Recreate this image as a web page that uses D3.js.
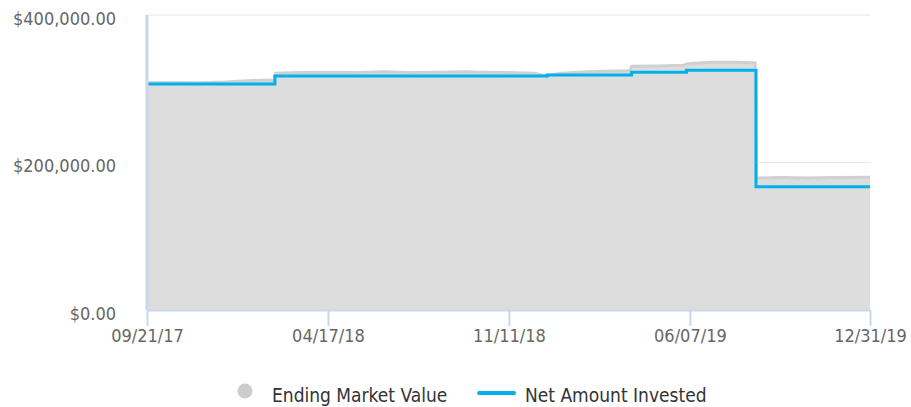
<!DOCTYPE html>
<html>
<head>
<meta charset="utf-8">
<script src="https://cdn.jsdelivr.net/npm/d3@7"></script>
<style>
  body { margin: 0; background: #fff; }
  text { font-family: "DejaVu Sans Condensed", "DejaVu Sans", sans-serif; font-stretch: condensed; }
</style>
</head>
<body>
<div class="canvas"></div>
<script>
const margin = { top: 15, right: 41, bottom: 97, left: 147 };
const width = 911 - margin.left - margin.right;
const height = 407 - margin.top - margin.bottom;

const parseDate = d3.timeParse("%m/%d/%y");
const fmtDate = d3.timeFormat("%m/%d/%y");

// Ending market value (area)
const marketDates = [
  "09/21/17", "10/20/17", "11/20/17", "12/20/17", "01/15/18", "02/10/18", "02/14/18",
  "02/16/18", "03/15/18", "04/17/18", "05/20/18", "06/20/18", "07/20/18", "08/20/18",
  "09/20/18", "10/15/18", "11/11/18", "12/10/18", "12/24/18", "01/10/19", "02/10/19",
  "03/10/19", "03/30/19", "04/01/19", "05/01/19", "05/31/19", "06/04/19", "07/01/19",
  "08/01/19", "08/21/19", "08/22/19", "09/20/19", "10/20/19", "11/20/19", "12/31/19"
];
const marketValues = [
  308000, 308500, 308000, 309000, 311000, 312000, 310000,
  321000, 322000, 322500, 322000, 323000, 322000, 322500,
  323000, 322500, 322000, 321000, 317500, 321000, 323000,
  324000, 324000, 330500, 331000, 332000, 334000, 336000,
  336000, 335000, 179000, 179500, 179000, 179500, 180000
];

// Net amount invested (step line)
const investedDates = ["09/21/17", "02/15/18", "12/25/18", "04/01/19", "06/03/19", "08/22/19", "12/31/19"];
const investedValues = [306500, 317200, 318700, 322500, 325000, 167000, 167000];

const yTicks = [0, 200000, 400000];
const xTickLabels = ["09/21/17", "04/17/18", "11/11/18", "06/07/19", "12/31/19"];

const market = marketDates.map((d, i) => ({ date: parseDate(d), value: marketValues[i] }));
const invested = investedDates.map((d, i) => ({ date: parseDate(d), value: investedValues[i] }));

const root = d3
  .select(".canvas")
  .append("svg")
  .attr("width", 911)
  .attr("height", 407);

const svg = root
  .append("g")
  .attr("transform", `translate(${margin.left},${margin.top})`);

const x = d3.scaleTime()
  .domain([parseDate(xTickLabels[0]), parseDate(xTickLabels[xTickLabels.length - 1])])
  .range([0, width]);
const y = d3.scaleLinear().domain([0, 400000]).range([height, 0]);

// gridlines
svg.selectAll(".grid")
  .data(yTicks.filter((d) => d > 0))
  .join("line")
  .attr("x1", 0)
  .attr("x2", width)
  .attr("y1", (d) => y(d))
  .attr("y2", (d) => y(d))
  .attr("stroke", "#e6e6e6")
  .attr("stroke-width", 1);

// area
const area = d3.area()
  .x((d) => x(d.date))
  .y0(height)
  .y1((d) => y(d.value));
const areaTop = d3.line()
  .x((d) => x(d.date))
  .y((d) => y(d.value));

svg.append("path")
  .datum(market)
  .attr("d", area)
  .attr("fill", "#dddddd");
svg.append("path")
  .datum(market)
  .attr("d", areaTop)
  .attr("fill", "none")
  .attr("stroke", "#d0d0d0")
  .attr("stroke-width", 3);

// step line
const line = d3.line()
  .curve(d3.curveStepAfter)
  .x((d) => x(d.date))
  .y((d) => y(d.value));
svg.append("path")
  .datum(invested)
  .attr("d", line)
  .attr("fill", "none")
  .attr("stroke", "#00b0eb")
  .attr("stroke-width", 3);

// axes
svg.append("line")
  .attr("x1", 0).attr("x2", 0)
  .attr("y1", 0).attr("y2", height)
  .attr("stroke", "#ccd6eb")
  .attr("stroke-width", 3);

const xAxis = svg.append("g").attr("transform", `translate(0,${height})`);
xAxis.call(
  d3.axisBottom(x)
    .tickValues(xTickLabels.map(parseDate))
    .tickFormat(fmtDate)
    .tickSizeInner(16)
    .tickSizeOuter(0)
    .tickPadding(3)
);
xAxis.select(".domain").attr("stroke", "#ccd6eb").attr("stroke-width", 2);
xAxis.selectAll(".tick line").attr("stroke", "#ccd6eb").attr("stroke-width", 2);
xAxis.selectAll(".tick text")
  .attr("fill", "#666666")
  .style("font-size", "18px")
  .style("font-family", "'DejaVu Sans Condensed', 'DejaVu Sans', sans-serif");

const yAxis = svg.append("g");
yAxis.call(
  d3.axisLeft(y)
    .tickValues(yTicks)
    .tickFormat((d) => "$" + d3.format(",.2f")(d))
    .tickSize(0)
    .tickPadding(31)
);
yAxis.select(".domain").remove();
yAxis.selectAll(".tick text")
  .attr("fill", "#666666")
  .attr("dy", "0.5em")
  .style("font-size", "18px")
  .style("font-family", "'DejaVu Sans Condensed', 'DejaVu Sans', sans-serif");

// legend
const legend = root.append("g");
legend.append("circle")
  .attr("cx", 245)
  .attr("cy", 391)
  .attr("r", 7.5)
  .attr("fill", "#cccccc");
legend.append("text")
  .attr("x", 272)
  .attr("y", 402)
  .attr("fill", "#333333")
  .style("font-size", "19px")
  .text("Ending Market Value");
legend.append("line")
  .attr("x1", 479).attr("x2", 514)
  .attr("y1", 393).attr("y2", 393)
  .attr("stroke", "#00b0eb")
  .attr("stroke-width", 4)
  .attr("stroke-linecap", "round");
legend.append("text")
  .attr("x", 525)
  .attr("y", 402)
  .attr("fill", "#333333")
  .style("font-size", "19px")
  .text("Net Amount Invested");
</script>
</body>
</html>
